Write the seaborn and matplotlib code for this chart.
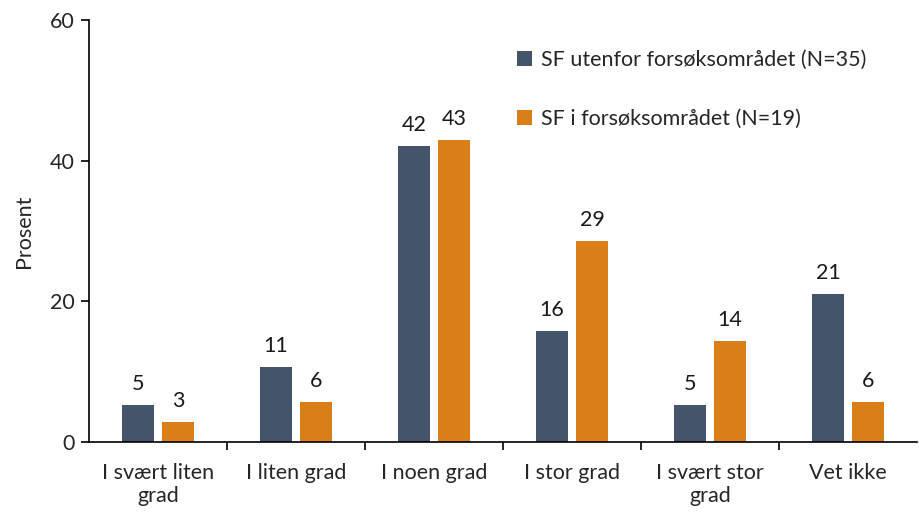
import seaborn as sns
import matplotlib.pyplot as plt
import pandas as pd

categories = ["I svært liten\ngrad", "I liten grad", "I noen grad",
              "I stor grad", "I svært stor\ngrad", "Vet ikke"]
groups = ["SF utenfor forsøksområdet (N=35)", "SF i forsøksområdet (N=19)"]
utenfor = [5.3, 10.6, 42.1, 15.8, 5.3, 21.1]
i_omradet = [2.9, 5.7, 42.9, 28.6, 14.3, 5.7]
colors = ["#44546A", "#D97F1A"]

df = pd.DataFrame({
    "kategori": categories * 2,
    "prosent": utenfor + i_omradet,
    "gruppe": [groups[0]] * len(categories) + [groups[1]] * len(categories),
})

sns.set_theme(style="white")
plt.rcParams["font.family"] = ["Lato", "DejaVu Sans"]
fs = 15.5

fig = plt.figure(figsize=(9.2, 5.16), dpi=100)
ax = fig.add_axes([0.0967, 0.1434, 0.9, 0.8176])

sns.barplot(data=df, x="kategori", y="prosent", hue="gruppe", palette=colors,
            saturation=1, width=0.58, gap=0.2, ax=ax, edgecolor="none")

for cont in ax.containers:
    ax.bar_label(cont, fmt="%.0f", padding=8, fontsize=fs, color="#1a1a1a")

ax.set_ylim(0, 60)
ax.set_yticks([0, 20, 40, 60])
ax.set_xlim(-0.5, 5.5)
ax.set_xlabel("")
ax.set_ylabel("Prosent", fontsize=fs, labelpad=12)

ax.set_xticks([i - 0.5 for i in range(1, 6)], minor=True)
ax.tick_params(axis="x", which="major", length=0, pad=15, labelsize=fs)
ax.tick_params(axis="x", which="minor", length=6, width=1.2, direction="out", color="black", bottom=True)
ax.tick_params(axis="y", which="major", length=6, width=1.2, direction="out", color="black", left=True, labelsize=fs, pad=4)

for s in ["top", "right"]:
    ax.spines[s].set_visible(False)
for s in ["left", "bottom"]:
    ax.spines[s].set_color("black")
    ax.spines[s].set_linewidth(1.2)

ax.legend(loc="upper left", bbox_to_anchor=(0.553, 0.92), bbox_transform=fig.transFigure,
          frameon=False, fontsize=fs, handlelength=0.7, handleheight=0.7,
          handletextpad=0.4, labelspacing=1.8, borderaxespad=0)

fig.savefig("out.png", dpi=100)
